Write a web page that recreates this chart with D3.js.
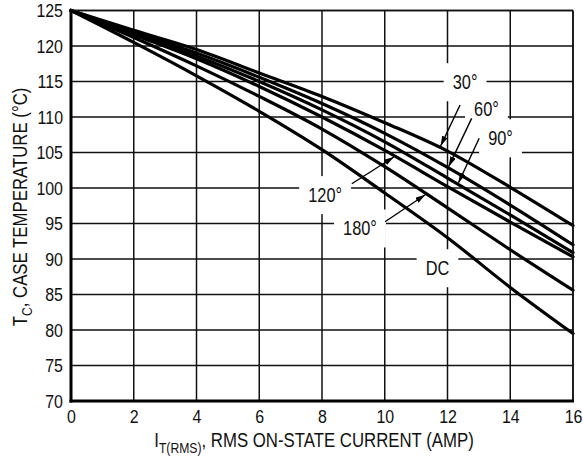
<!DOCTYPE html>
<html><head><meta charset="utf-8">
<script src="https://cdn.jsdelivr.net/npm/d3@7"></script>
<style>
body{margin:0;background:#fff}
svg{display:block}
text{font-family:"Liberation Sans",Arial,sans-serif;fill:#111}
</style>
</head><body>
<svg id="c" width="583" height="462"></svg>
<script>
// ---- data ----
const currents = [0, 2, 4, 6, 8, 10, 12, 14, 16];
const t30  = [125, 122.2, 119.5, 116.2, 112.9, 109.2, 105.2, 100.1, 94.7];
const t60  = [125, 122.0, 119.0, 115.6, 111.9, 107.7, 102.9, 97.6, 92.0];
const t90  = [125, 121.8, 118.6, 115.0, 111.0, 106.5, 101.4, 96.2, 90.9];
const t120 = [125, 121.6, 118.2, 114.3, 110.0, 105.3, 100.2, 95.2, 90.3];
const t180 = [125, 121.2, 117.2, 112.9, 108.3, 103.0, 97.2, 91.3, 85.6];
const tDC  = [125, 120.5, 115.8, 110.8, 105.4, 99.3, 93.0, 86.0, 79.5];
const seriesNames = ["30°", "60°", "90°", "120°", "180°", "DC"];
const xTicks = [0, 2, 4, 6, 8, 10, 12, 14, 16];
const yTicks = [70, 75, 80, 85, 90, 95, 100, 105, 110, 115, 120, 125];

// ---- layout (annotation positions in data units) ----
const layout = {
  labelPos: [[12.56,114.9],[13.24,111.2],[13.69,107.0],[8.10,99.0],[9.21,94.3],[11.68,88.7]],
  arrowTail: [[12.40,111.7],[12.77,109.8],[13.01,107.0],[8.95,100.6],[10.01,95.25],null],
  arrowTipX: [11.76,12.02,12.33,10.33,11.33,null],
  narrow: 0.84
};
const S = layout.narrow;

const svg = d3.select("#c");
const x = d3.scaleLinear().domain([0,16]).range([71,573]);
const y = d3.scaleLinear().domain([70,125]).range([401,10.5]);
const series = [t30,t60,t90,t120,t180,tDC];

function narrowText(sel){
  sel.each(function(){
    const t = d3.select(this);
    const tx = +t.attr("x")||0, ty = +t.attr("y")||0;
    t.attr("x",0).attr("y",0).attr("transform",`translate(${tx},${ty}) scale(${S},1)`);
  });
}

// grid
const g = svg.append("g");
g.selectAll(".vg").data(xTicks).join("line")
  .attr("x1",d=>x(d)).attr("x2",d=>x(d)).attr("y1",y(125)).attr("y2",y(70))
  .attr("stroke","#111").attr("stroke-width",1.5);
g.selectAll(".hg").data(yTicks).join("line")
  .attr("x1",x(0)).attr("x2",x(16)).attr("y1",d=>y(d)).attr("y2",d=>y(d))
  .attr("stroke","#111").attr("stroke-width",1.5);

const boxLayer = svg.append("g");
const curveLayer = svg.append("g");
const arrowLayer = svg.append("g");
const labelLayer = svg.append("g");

const labels = labelLayer.selectAll("text").data(seriesNames).join("text")
  .attr("x",(d,i)=>x(layout.labelPos[i][0]))
  .attr("y",(d,i)=>y(layout.labelPos[i][1]))
  .attr("dy","0.36em").attr("text-anchor","middle")
  .attr("font-size",19.5).text(d=>d);
narrowText(labels);
labels.each(function(d,i){
  const b = this.getBBox();
  const cx = x(layout.labelPos[i][0]), cy = y(layout.labelPos[i][1]);
  const w = b.width*S;
  boxLayer.append("rect").attr("x",cx-w/2-9).attr("width",w+18)
    .attr("y",cy-19).attr("height",38).attr("fill","#fff");
});

// curves
const line = d3.line().x((d,i)=>x(currents[i])).y(d=>y(d)).curve(d3.curveMonotoneX);
const paths = curveLayer.selectAll("path").data(series).join("path")
  .attr("d",line).attr("fill","none").attr("stroke","#000")
  .attr("stroke-width",3.2).attr("stroke-linecap","round");

// arrows
const defs = svg.append("defs");
defs.append("marker").attr("id","ah").attr("viewBox","0 0 10 6")
  .attr("refX",10).attr("refY",3).attr("markerWidth",10).attr("markerHeight",6)
  .attr("markerUnits","userSpaceOnUse").attr("orient","auto")
  .append("path").attr("d","M0,0L10,3L0,6Z").attr("fill","#000");

function pointAtX(node, px){
  let lo=0, hi=node.getTotalLength();
  for(let k=0;k<40;k++){
    const mid=(lo+hi)/2; const p=node.getPointAtLength(mid);
    if(p.x<px) lo=mid; else hi=mid;
  }
  return node.getPointAtLength((lo+hi)/2);
}
paths.each(function(d,i){
  if(!layout.arrowTail[i]) return;
  const tip = pointAtX(this, x(layout.arrowTipX[i]));
  const tx = x(layout.arrowTail[i][0]), ty = y(layout.arrowTail[i][1]);
  const dx = tip.x-tx, dy = tip.y-ty, L = Math.hypot(dx,dy);
  const ex = tip.x - dx/L*1.5, ey = tip.y - dy/L*1.5;
  arrowLayer.append("line").attr("x1",tx).attr("y1",ty).attr("x2",ex).attr("y2",ey)
    .attr("stroke","#000").attr("stroke-width",1.4).attr("marker-end","url(#ah)");
});

// frame
svg.append("line").attr("x1",x(16)).attr("x2",x(16)).attr("y1",y(125)).attr("y2",y(70)).attr("stroke","#111").attr("stroke-width",1.5);
svg.append("line").attr("x1",x(0)).attr("x2",x(16)).attr("y1",y(125)).attr("y2",y(125)).attr("stroke","#111").attr("stroke-width",1.5);
svg.append("line").attr("x1",x(0)).attr("x2",x(0)).attr("y1",y(125)-0.8).attr("y2",y(70)+1.5).attr("stroke","#000").attr("stroke-width",3);
svg.append("line").attr("x1",x(0)-1.5).attr("x2",x(16)+1).attr("y1",y(70)).attr("y2",y(70)).attr("stroke","#000").attr("stroke-width",3);

// tick labels
const ax = svg.append("g").attr("transform",`translate(0,${y(70)})`)
  .call(d3.axisBottom(x).tickValues(xTicks).tickSize(0).tickPadding(8).tickFormat(d3.format("d")));
ax.select(".domain").remove();
ax.selectAll("text").attr("font-size",19).attr("font-family",null).attr("fill","#111").call(narrowText);
const ay = svg.append("g").attr("transform",`translate(${x(0)},0)`)
  .call(d3.axisLeft(y).tickValues(yTicks).tickSize(0).tickPadding(8).tickFormat(d3.format("d")));
ay.select(".domain").remove();
ay.selectAll("text").attr("font-size",19).attr("font-family",null).attr("fill","#111").call(narrowText);

// axis titles
const xt = svg.append("text").attr("transform",`translate(314,447) scale(${S},1)`)
  .attr("text-anchor","middle").attr("font-size",20);
xt.append("tspan").text("I");
xt.append("tspan").attr("font-size",14.5).attr("dy",6).text("T(RMS)");
xt.append("tspan").attr("dy",-6).text(", RMS ON-STATE CURRENT (AMP)");

const yt = svg.append("text").attr("transform",`translate(27,207) rotate(-90) scale(${S},1)`)
  .attr("text-anchor","middle").attr("font-size",20);
yt.append("tspan").text("T");
yt.append("tspan").attr("font-size",14.5).attr("dy",5).text("C");
yt.append("tspan").attr("dy",-5).text(", CASE TEMPERATURE (°C)");
</script>
</body></html>
